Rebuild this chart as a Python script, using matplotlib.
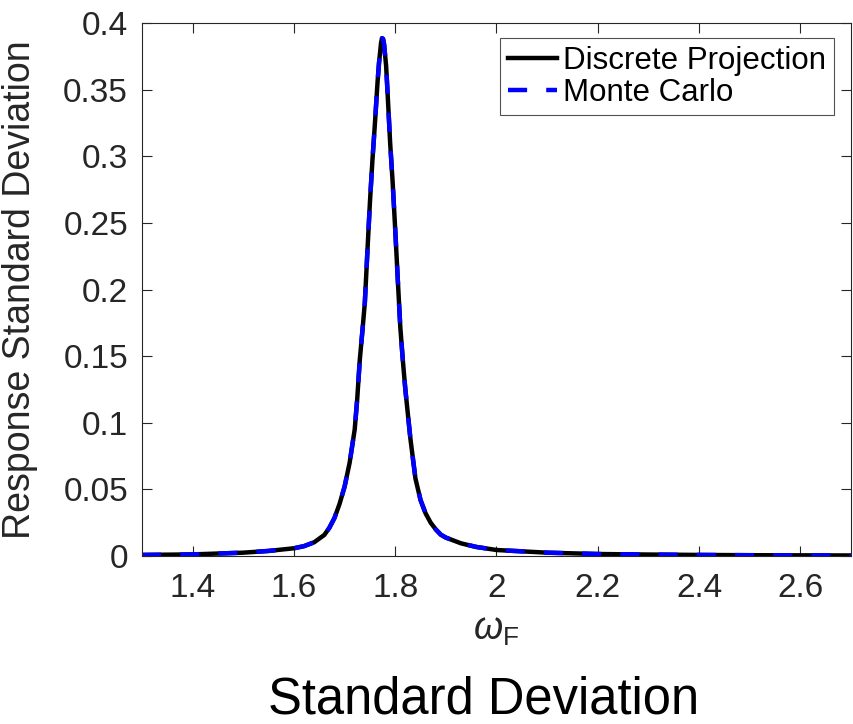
import matplotlib
matplotlib.use('Agg')
import matplotlib.pyplot as plt

plt.rcParams['font.family'] = ['Liberation Sans', 'DejaVu Sans']
plt.rcParams['mathtext.fontset'] = 'custom'
plt.rcParams['mathtext.rm'] = 'Liberation Sans'
plt.rcParams['mathtext.it'] = 'Liberation Sans:italic'

# valores (omega_F, desviacion estandar de la respuesta)
omega = [1.30, 1.40, 1.50, 1.55, 1.60, 1.62, 1.64, 1.66, 1.67, 1.68,
         1.69, 1.70, 1.71, 1.72, 1.725, 1.73, 1.735, 1.74, 1.745, 1.75,
         1.755, 1.76, 1.765, 1.768, 1.772, 1.774, 1.776, 1.778, 1.782, 1.785,
         1.79, 1.795, 1.80, 1.805, 1.81, 1.815, 1.82, 1.83, 1.84, 1.85,
         1.86, 1.87, 1.88, 1.89, 1.90, 1.93, 1.96, 2.00, 2.10, 2.20,
         2.30, 2.40, 2.50, 2.60, 2.70]
sd_proyeccion = [0.0008, 0.0012, 0.0025, 0.0038, 0.0058, 0.0074, 0.0103, 0.0158, 0.0212, 0.0285,
                 0.039, 0.052, 0.070, 0.095, 0.118, 0.147, 0.168, 0.190, 0.228, 0.265,
                 0.297, 0.325, 0.355, 0.370, 0.385, 0.3886, 0.388, 0.384, 0.368, 0.347,
                 0.310, 0.280, 0.245, 0.208, 0.172, 0.147, 0.125, 0.088, 0.058, 0.042,
                 0.032, 0.025, 0.020, 0.016, 0.0138, 0.0095, 0.0068, 0.0045, 0.0025, 0.0015,
                 0.0011, 0.0008, 0.0006, 0.0005, 0.0004]
# las dos curvas coinciden en el grafico
sd_monte_carlo = list(sd_proyeccion)

xticks = [1.4, 1.6, 1.8, 2.0, 2.2, 2.4, 2.6]
xtick_labels = ['1.4', '1.6', '1.8', '2', '2.2', '2.4', '2.6']
yticks = [0, 0.05, 0.1, 0.15, 0.2, 0.25, 0.3, 0.35, 0.4]
ytick_labels = ['0', '0.05', '0.1', '0.15', '0.2', '0.25', '0.3', '0.35', '0.4']

GRIS = '#262626'

fig = plt.figure(figsize=(8.54, 7.24), dpi=100)
ax = fig.add_axes([142 / 854, 1 - 556 / 724, 709 / 854, 533 / 724])

ax.plot(omega, sd_proyeccion, color='black', lw=3.2, solid_joinstyle='round',
        label='Discrete Projection')
ax.plot(omega, sd_monte_carlo, color='blue', lw=3.2, linestyle=(0, (4.3, 4.3)),
        dash_joinstyle='round', label='Monte Carlo')

ax.set_xlim(1.3, 2.7)
ax.set_ylim(0, 0.4)
ax.set_xticks(xticks)
ax.set_xticklabels(xtick_labels)
ax.set_yticks(yticks)
ax.set_yticklabels(ytick_labels)

for lado in ax.spines.values():
    lado.set_color(GRIS)
    lado.set_linewidth(0.8)
ax.tick_params(direction='in', length=7, width=0.8, color=GRIS, labelcolor=GRIS,
               labelsize=24, top=True, right=True)
ax.tick_params(axis='x', pad=12)
ax.tick_params(axis='y', pad=10)

ax.set_ylabel('Response Standard Deviation', fontsize=27, color=GRIS)
ax.yaxis.set_label_coords(-0.147, 0.5)
ax.set_xlabel(r'$\omega_{\mathrm{F}}$', fontsize=27, color=GRIS, labelpad=6)

leg = ax.legend(loc='upper right', bbox_to_anchor=(834.3 / 854, 1 - 38.3 / 724),
                bbox_transform=fig.transFigure, borderaxespad=0, fontsize=22.5,
                handlelength=1.57, handletextpad=0.2, labelspacing=0.05,
                borderpad=0.25, frameon=True, fancybox=False)
leg.get_frame().set_edgecolor(GRIS)
leg.get_frame().set_linewidth(0.8)

fig.text(484 / 854, 1 - 700 / 724, 'Standard Deviation', fontsize=36.5,
         ha='center', va='center', color='black')

fig.savefig('out.png', dpi=100)
